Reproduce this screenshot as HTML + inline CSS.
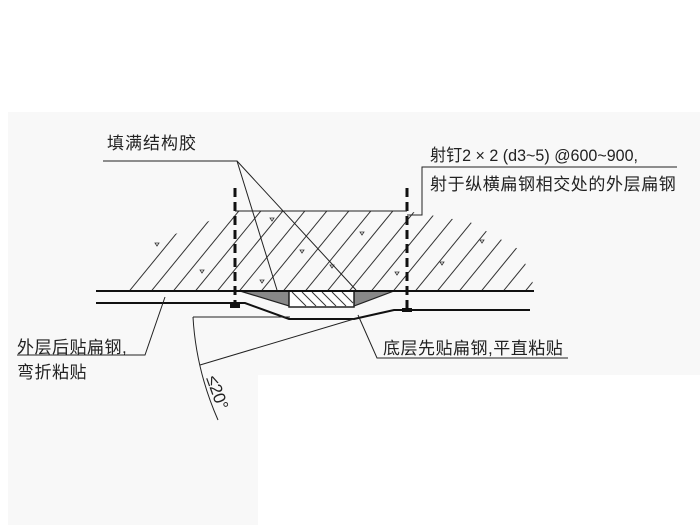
<!DOCTYPE html>
<html><head><meta charset="utf-8"><style>
html,body{margin:0;padding:0;background:#fff;}
svg{display:block;}
text{font-family:"Liberation Sans","Noto Sans CJK SC",sans-serif;fill:#222;}
</style></head><body>
<svg width="700" height="525" viewBox="0 0 700 525" xmlns="http://www.w3.org/2000/svg">
<rect x="8" y="112" width="692" height="413" fill="#f8f8f8"/>
<rect x="258" y="375" width="442" height="150" fill="#fff"/>
<defs>
<clipPath id="hc"><polygon points="128,291 170,236 235,211 407,211 470,222 520,250 536,291"/></clipPath>
</defs>
<g clip-path="url(#hc)" stroke="#333" stroke-width="1">
<line x1="100" y1="300" x2="190" y2="190"/>
<line x1="122" y1="300" x2="212" y2="190"/>
<line x1="144" y1="300" x2="234" y2="190"/>
<line x1="166" y1="300" x2="256" y2="190"/>
<line x1="188" y1="300" x2="278" y2="190"/>
<line x1="210" y1="300" x2="300" y2="190"/>
<line x1="232" y1="300" x2="322" y2="190"/>
<line x1="254" y1="300" x2="344" y2="190"/>
<line x1="276" y1="300" x2="366" y2="190"/>
<line x1="298" y1="300" x2="388" y2="190"/>
<line x1="320" y1="300" x2="410" y2="190"/>
<line x1="342" y1="300" x2="432" y2="190"/>
<line x1="364" y1="300" x2="454" y2="190"/>
<line x1="386" y1="300" x2="476" y2="190"/>
<line x1="408" y1="300" x2="498" y2="190"/>
<line x1="430" y1="300" x2="520" y2="190"/>
<line x1="452" y1="300" x2="542" y2="190"/>
<line x1="474" y1="300" x2="564" y2="190"/>
<line x1="496" y1="300" x2="586" y2="190"/>
<line x1="518" y1="300" x2="608" y2="190"/>
</g>
<g fill="none" stroke="#333" stroke-width="0.8">
<path d="M155,243 l4,0 -2,3z M270,218 l4,0 -2,3z M300,250 l4,0 -2,3z M330,265 l4,0 -2,3z M360,232 l4,0 -2,3z M440,262 l4,0 -2,3z M480,240 l4,0 -2,3z M260,280 l4,0 -2,3z M395,272 l4,0 -2,3z M200,270 l4,0 -2,3z"/>
</g>
<polygon points="240,291 289,291 289,306" fill="#888" stroke="#222" stroke-width="1.2"/>
<polygon points="354,291 394,291 354,306" fill="#888" stroke="#222" stroke-width="1.2"/>
<rect x="289" y="291" width="65" height="16" fill="#fff" stroke="#222" stroke-width="1.5"/>
<g stroke="#333" stroke-width="1"><line x1="292" y1="292" x2="306" y2="306"/><line x1="302" y1="292" x2="316" y2="306"/><line x1="312" y1="292" x2="326" y2="306"/><line x1="322" y1="292" x2="336" y2="306"/><line x1="332" y1="292" x2="346" y2="306"/><line x1="342" y1="292" x2="353" y2="303"/></g>
<g fill="none" stroke="#111" stroke-width="2">
<line x1="96" y1="291" x2="534" y2="291"/>
<polyline points="96,303 245,303 289,319 354,319 394,310 530,310"/>
</g>
<g stroke="#111" stroke-width="3" stroke-dasharray="9,5">
<line x1="235" y1="188" x2="235" y2="305"/>
<line x1="407" y1="188" x2="407" y2="309"/>
</g>
<rect x="230" y="304" width="10" height="4" fill="#111"/>
<rect x="402" y="308" width="10" height="4" fill="#111"/>
<g fill="none" stroke="#222" stroke-width="1">
<line x1="235" y1="211" x2="407" y2="211"/>
<polyline points="407,215 422,215 422,167 677,167"/>
<polyline points="103,161 237,161 277,290"/>
<line x1="237" y1="161" x2="356" y2="290"/>
<polyline points="358,315 377,358 568,358"/>
<polyline points="17,355 145,355 165,297"/>
<line x1="193" y1="317" x2="290" y2="317"/>
<line x1="200" y1="365" x2="354" y2="319"/>
<path d="M193,317 Q196,370 218,420"/>
</g>
<text x="107" y="149" font-size="17" letter-spacing="1">填满结构胶</text>
<text x="430" y="161" font-size="17" textLength="208" lengthAdjust="spacingAndGlyphs">射钉2 × 2 (d3~5) @600~900,</text>
<text x="430" y="190" font-size="17" letter-spacing="0.6">射于纵横扁钢相交处的外层扁钢</text>
<text x="383" y="354" font-size="17" letter-spacing="0.5">底层先贴扁钢,平直粘贴</text>
<text x="17" y="353" font-size="17" letter-spacing="0.5" fill="#444">外层后贴扁钢,</text>
<text x="17" y="378" font-size="17" letter-spacing="0.5" fill="#444">弯折粘贴</text>
<text x="0" y="0" font-size="17" transform="translate(206,378) rotate(70)">≤20°</text>
</svg>
</body></html>
